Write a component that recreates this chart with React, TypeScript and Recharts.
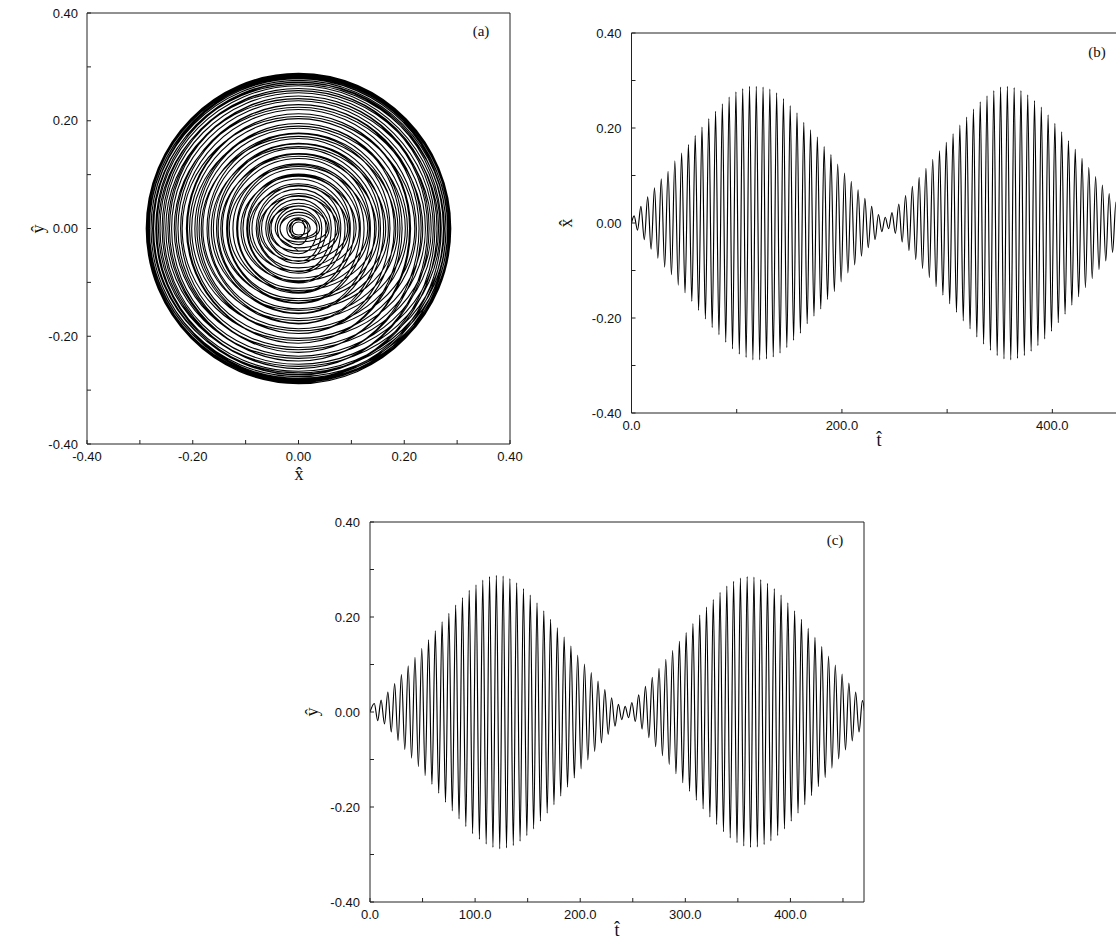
import type { CSSProperties, ReactNode } from 'react'
import { Line, LineChart, XAxis, YAxis } from 'recharts'

// peak |x̂| of every oscillation cycle, in order
const xAmps = [
  0.015, 0.035, 0.055, 0.074, 0.093, 0.109, 0.131, 0.147, 0.165, 0.184,
  0.202, 0.22, 0.235, 0.251, 0.265, 0.276, 0.283, 0.288, 0.288, 0.286,
  0.282, 0.274, 0.262, 0.247, 0.232, 0.212, 0.196, 0.181, 0.161, 0.144,
  0.124, 0.105, 0.088, 0.07, 0.052, 0.035, 0.018, 0.012, 0.022, 0.04,
  0.058, 0.077, 0.096, 0.115, 0.134, 0.152, 0.17, 0.188, 0.206, 0.223,
  0.24, 0.255, 0.268, 0.279, 0.286, 0.288, 0.285, 0.279, 0.27, 0.258,
  0.244, 0.228, 0.21, 0.192, 0.173, 0.155, 0.136, 0.117, 0.098, 0.08,
  0.062, 0.044,
]

// peak |ŷ| of every oscillation cycle, in order
const yAmps = [
  0.018, 0.025, 0.042, 0.06, 0.079, 0.097, 0.115, 0.134, 0.152, 0.171,
  0.19, 0.208, 0.225, 0.241, 0.256, 0.268, 0.278, 0.285, 0.288, 0.286,
  0.281, 0.272, 0.26, 0.246, 0.23, 0.213, 0.195, 0.177, 0.158, 0.139,
  0.12, 0.101, 0.083, 0.065, 0.047, 0.03, 0.016, 0.012, 0.02, 0.036,
  0.054, 0.073, 0.092, 0.111, 0.13, 0.149, 0.167, 0.186, 0.204, 0.221,
  0.237, 0.252, 0.265, 0.275, 0.282, 0.285, 0.284, 0.279, 0.271, 0.26,
  0.246, 0.23, 0.213, 0.195, 0.176, 0.157, 0.138, 0.118, 0.099, 0.08,
  0.061, 0.042, 0.024,
]

const cyclePeriod = 6.45
const xFirstPeak = 2.5
const yFirstPeak = 4.1

const phaseTicks = [-0.4, -0.3, -0.2, -0.1, 0, 0.1, 0.2, 0.3, 0.4]
const phaseLabels = [-0.4, -0.2, 0, 0.2, 0.4]
const timeTicksB = [0, 100, 200, 300, 400]
const timeLabelsB = [0, 200, 400]
const timeTicksC = [0, 50, 100, 150, 200, 250, 300, 350, 400, 450]
const timeLabelsC = [0, 100, 200, 300, 400]

type Pt = { t: number; v: number }

function timeSeries(amps: number[], firstPeak: number): Pt[] {
  const out: Pt[] = [{ t: 0, v: 0 }]
  amps.forEach((a, k) => {
    const t = firstPeak + k * cyclePeriod
    out.push({ t, v: a }, { t: t + cyclePeriod / 2, v: -a })
  })
  return out
}

const xSeries = timeSeries(xAmps, xFirstPeak)
const ySeries = timeSeries(yAmps, yFirstPeak)

// phase plane: x̂ and ŷ extremes alternate a quarter turn apart
const spiral: { x: number; y: number }[] = []
xAmps.forEach((a, k) => {
  const b = yAmps[k]
  spiral.push({ x: a, y: 0 }, { x: 0, y: b }, { x: -a, y: 0 }, { x: 0, y: -b })
})

// cardinal-style curve whose handles make quarter-turn points trace round arcs
const HANDLE = 0.2761
function roundCurve(context: any) {
  let pts: [number, number][] = []
  return {
    areaStart() {},
    areaEnd() {},
    lineStart() {
      pts = []
    },
    point(x: number, y: number) {
      pts.push([+x, +y])
    },
    lineEnd() {
      const n = pts.length
      if (!n) return
      context.moveTo(pts[0][0], pts[0][1])
      for (let i = 0; i < n - 1; i++) {
        const p0 = pts[Math.max(i - 1, 0)]
        const p1 = pts[i]
        const p2 = pts[i + 1]
        const p3 = pts[Math.min(i + 2, n - 1)]
        context.bezierCurveTo(
          p1[0] + HANDLE * (p2[0] - p0[0]),
          p1[1] + HANDLE * (p2[1] - p0[1]),
          p2[0] - HANDLE * (p3[0] - p1[0]),
          p2[1] - HANDLE * (p3[1] - p1[1]),
          p2[0],
          p2[1],
        )
      }
    },
  }
}

const ink = '#000'
const axisStroke = '#222'
const sans = '"Liberation Sans", Arial, Helvetica, sans-serif'
const serif = '"Liberation Serif", "DejaVu Serif", "Times New Roman", serif'
const tickFont = { fontSize: 13, fill: '#111', fontFamily: sans }

const fmtPhase = (v: number) => (phaseLabels.includes(v) ? v.toFixed(2) : '')
const fmtTime = (labels: number[]) => (v: number) =>
  labels.includes(v) ? v.toFixed(1) : ''

function Tag({
  x,
  y,
  rotate,
  size = 18,
  children,
}: {
  x: number
  y: number
  rotate?: boolean
  size?: number
  children: ReactNode
}) {
  const style: CSSProperties = {
    position: 'absolute',
    left: x,
    top: y,
    transform: `translate(-50%, -50%)${rotate ? ' rotate(-90deg)' : ''}`,
    fontFamily: serif,
    fontSize: size,
    lineHeight: 1,
    color: '#111',
    whiteSpace: 'nowrap',
  }
  return <div style={style}>{children}</div>
}

function PhasePanel() {
  return (
    <LineChart
      width={560}
      height={500}
      data={spiral}
      margin={{ top: 12, right: 40, bottom: 26, left: 27 }}
    >
      <XAxis
        xAxisId="bottom"
        dataKey="x"
        type="number"
        domain={[-0.4, 0.4]}
        allowDataOverflow
        ticks={phaseTicks}
        interval={0}
        tickFormatter={fmtPhase}
        tickSize={-4}
        tickMargin={12}
        height={30}
        stroke={axisStroke}
        tick={tickFont}
      />
      <XAxis
        xAxisId="top"
        orientation="top"
        dataKey="x"
        type="number"
        domain={[-0.4, 0.4]}
        allowDataOverflow
        ticks={phaseTicks}
        interval={0}
        tick={false}
        tickSize={-4}
        height={1}
        stroke={axisStroke}
      />
      <YAxis
        yAxisId="left"
        type="number"
        domain={[-0.4, 0.4]}
        allowDataOverflow
        ticks={phaseTicks}
        interval={0}
        tickFormatter={fmtPhase}
        tickSize={-4}
        tickMargin={13}
        width={60}
        stroke={axisStroke}
        tick={tickFont}
      />
      <YAxis
        yAxisId="right"
        orientation="right"
        type="number"
        domain={[-0.4, 0.4]}
        allowDataOverflow
        ticks={phaseTicks}
        interval={0}
        tick={false}
        tickSize={-4}
        width={10}
        stroke={axisStroke}
      />
      <Line
        xAxisId="bottom"
        yAxisId="left"
        dataKey="y"
        type={roundCurve as any}
        stroke={ink}
        strokeWidth={1.1}
        dot={false}
        isAnimationActive={false}
      />
    </LineChart>
  )
}

function TimePanel({
  data,
  width,
  height,
  margin,
  ticks,
  labels,
  rightAxis,
}: {
  data: Pt[]
  width: number
  height: number
  margin: { top: number; right: number; bottom: number; left: number }
  ticks: number[]
  labels: number[]
  rightAxis: boolean
}) {
  return (
    <LineChart width={width} height={height} data={data} margin={margin}>
      <XAxis
        xAxisId="bottom"
        dataKey="t"
        type="number"
        domain={[0, 470]}
        allowDataOverflow
        ticks={ticks}
        interval={0}
        tickFormatter={fmtTime(labels)}
        tickSize={-4}
        tickMargin={12}
        height={30}
        stroke={axisStroke}
        tick={tickFont}
      />
      <XAxis
        xAxisId="top"
        orientation="top"
        dataKey="t"
        type="number"
        domain={[0, 470]}
        allowDataOverflow
        ticks={ticks}
        interval={0}
        tick={false}
        tickSize={-4}
        height={1}
        stroke={axisStroke}
      />
      <YAxis
        yAxisId="left"
        type="number"
        domain={[-0.4, 0.4]}
        allowDataOverflow
        ticks={phaseTicks}
        interval={0}
        tickFormatter={fmtPhase}
        tickSize={-4}
        tickMargin={14}
        width={60}
        stroke={axisStroke}
        tick={tickFont}
      />
      {rightAxis && (
        <YAxis
          yAxisId="right"
          orientation="right"
          type="number"
          domain={[-0.4, 0.4]}
          allowDataOverflow
          ticks={phaseTicks}
          interval={0}
          tick={false}
          tickSize={-4}
          width={10}
          stroke={axisStroke}
        />
      )}
      <Line
        xAxisId="bottom"
        yAxisId="left"
        dataKey="v"
        type="monotone"
        stroke={ink}
        strokeWidth={1.15}
        dot={false}
        isAnimationActive={false}
      />
    </LineChart>
  )
}

export default function App() {
  return (
    <div
      style={{
        position: 'absolute',
        left: 0,
        top: 0,
        width: 1116,
        height: 942,
        overflow: 'hidden',
        background: '#fff',
      }}
    >
      <div style={{ position: 'absolute', left: 0, top: 0 }}>
        <PhasePanel />
      </div>
      <div style={{ position: 'absolute', left: 560, top: 0 }}>
        <TimePanel
          data={xSeries}
          width={600}
          height={470}
          margin={{ top: 32, right: 34, bottom: 27, left: 11.5 }}
          ticks={timeTicksB}
          labels={timeLabelsB}
          rightAxis={false}
        />
      </div>
      <div style={{ position: 'absolute', left: 300, top: 480 }}>
        <TimePanel
          data={ySeries}
          width={600}
          height={460}
          margin={{ top: 41, right: 26, bottom: 8, left: 10 }}
          ticks={timeTicksC}
          labels={timeLabelsC}
          rightAxis
        />
      </div>

      <Tag x={481} y={31} size={15}>(a)</Tag>
      <Tag x={299} y={474}>x̂</Tag>
      <Tag x={38} y={229} rotate>ŷ</Tag>

      <Tag x={1097} y={52} size={15}>(b)</Tag>
      <Tag x={566} y={223} rotate>x̂</Tag>
      <Tag x={879} y={440}>t̂</Tag>

      <Tag x={835} y={540} size={15}>(c)</Tag>
      <Tag x={312} y={712} rotate>ŷ</Tag>
      <Tag x={617} y={930}>t̂</Tag>
    </div>
  )
}
